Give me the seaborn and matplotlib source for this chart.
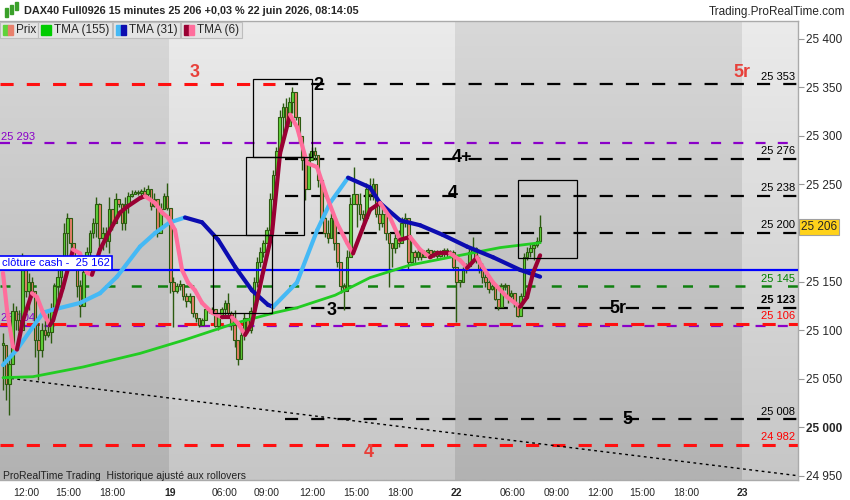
import matplotlib
matplotlib.use('Agg')
import matplotlib.pyplot as plt
from matplotlib.patches import Rectangle
from matplotlib.colors import LinearSegmentedColormap
from matplotlib.transforms import blended_transform_factory
import numpy as np
import seaborn as sns

# --- candles (15 min bars), open = previous close ---
highs = [25097, 25059, 25072, 25128, 25125, 25121, 25179, 25162, 25159, 25155, 25113, 25107, 25107, 25110,
         25118, 25128, 25149, 25162, 25169, 25210, 25221, 25213, 25183, 25169, 25152, 25165, 25186, 25203, 25215,
         25237, 25231, 25206, 25206, 25237, 25224, 25241, 25234, 25231, 25237, 25242, 25244, 25244, 25244, 25245,
         25247, 25249, 25244, 25241, 25234, 25231, 25241, 25252, 25226, 25155, 25149, 25152, 25147, 25138, 25138,
         25126, 25118,
         25110, 25112, 25124, 25121, 25124, 25108, 25118, 25124, 25131, 25138, 25120,
         25121, 25083, 25100, 25118, 25110, 25124, 25155, 25175, 25186, 25193, 25206, 25241, 25265, 25289, 25327,
         25334, 25339, 25340, 25350, 25330, 25316, 25299,
         25272, 25282, 25289,
         25289, 25272, 25237,
         25216, 25213, 25221, 25210, 25190,
         25165, 25149, 25183, 25237, 25268,
         25237, 25241, 25224, 25252, 25257, 25257, 25241, 25231, 25227, 25221,
         25200, 25190, 25200, 25203, 25216, 25221, 25206, 25193, 25183, 25186,
         25179, 25183, 25185, 25183, 25183, 25183, 25183, 25185, 25185, 25183,
         25183, 25152, 25152, 25165, 25169, 25186, 25196, 25186, 25175, 25169,
         25162, 25155, 25152, 25134, 25131, 25149, 25149, 25144, 25141, 25134,
         25118, 25138, 25179, 25186, 25190, 25190, 25196, 25219]
lows = [25038, 25028, 25013, 25072, 25100, 25093, 25100, 25134, 25121, 25134, 25072, 25049, 25072, 25090,
        25093, 25087, 25110, 25128, 25134, 25169, 25175, 25179, 25162, 25134, 25113, 25128, 25162, 25175, 25195,
        25196, 25186, 25183, 25186, 25179, 25203, 25216, 25227, 25203, 25203, 25221, 25237, 25241, 25239, 25238,
        25237, 25237, 25224, 25227, 25196, 25216, 25227, 25224, 25138, 25103, 25138, 25141, 25131, 25124, 25128,
        25113, 25108,
        25103, 25107, 25113, 25118, 25121, 25103, 25100, 25118, 25113, 25113, 25100,
        25083, 25064, 25076, 25090, 25097, 25097, 25118, 25144, 25165, 25175, 25190, 25196, 25221, 25244, 25289,
        25299, 25306, 25324, 25324, 25316, 25293, 25265,
        25234, 25258, 25275,
        25275, 25247, 25210,
        25196, 25190, 25196, 25183, 25165,
        25138, 25121, 25149, 25190, 25231,
        25206, 25213, 25203, 25216, 25234, 25234, 25216, 25203, 25206, 25193,
        25144, 25165, 25179, 25186, 25196, 25206, 25162, 25169, 25169, 25172,
        25172, 25175, 25175, 25175, 25175, 25172, 25175, 25175, 25175, 25175,
        25162, 25108, 25144, 25155, 25159, 25169, 25179, 25169, 25159, 25149,
        25144, 25138, 25141, 25131, 25121, 25138, 25141, 25128, 25131, 25124,
        25113, 25124, 25149, 25172, 25175, 25172, 25186, 25190]
closes = [25085, 25045, 25065, 25120, 25110, 25100, 25165, 25140, 25150, 25140, 25090, 25080, 25100, 25095,
          25098, 25120, 25145, 25155, 25165, 25200, 25215, 25190, 25170, 25145, 25125, 25160, 25180, 25200, 25210,
          25230, 25195, 25200, 25192, 25225, 25210, 25235, 25230, 25210, 25230, 25238, 25240, 25242, 25241, 25243,
          25240, 25245, 25228, 25235, 25200, 25225, 25238, 25226, 25150, 25140, 25145, 25148, 25135, 25130, 25135,
          25118, 25112,
          25105, 25110, 25122, 25120, 25122, 25104, 25115, 25122, 25128, 25118, 25105,
          25090, 25070, 25095, 25112, 25100, 25120, 25150, 25170, 25180, 25190, 25203, 25235, 25260, 25285, 25320,
          25330, 25310, 25335, 25345, 25320, 25300, 25275,
          25245, 25275, 25285,
          25280, 25255, 25215,
          25200, 25195, 25215, 25190, 25170,
          25145, 25140, 25175, 25230, 25240,
          25230, 25220, 25215, 25245, 25240, 25250, 25220, 25210, 25220, 25200,
          25190, 25185, 25195, 25190, 25210, 25215, 25170, 25180, 25175, 25180,
          25175, 25180, 25182, 25178, 25181, 25176, 25180, 25183, 25178, 25180,
          25165, 25150, 25150, 25162, 25166, 25180, 25185, 25172, 25162, 25155,
          25150, 25142, 25145, 25132, 25124, 25145, 25146, 25135, 25138, 25128,
          25115, 25135, 25175, 25180, 25185, 25188, 25192, 25206]

# --- moving averages (bar index, price) ---
tma155_k = [0, 9.3, 24.9, 42.6, 56.6, 72.1, 84.6, 91.4, 103.3, 114.1, 126.6, 142.1, 154.6, 167]
tma155_p = [25051, 25052, 25062, 25076, 25090, 25107, 25118, 25123, 25136, 25154, 25167, 25177, 25185, 25190]

tma31_k = [0, 4.35, 12.44, 15.55, 23.95, 30.17, 35.45, 42.6, 47.3, 51.9, 56.6, 61.9, 66.9, 72.2, 77.4,
           82.4, 84.0, 91.4, 97.7, 101.7, 107.3, 114.1, 117.2, 123.5, 129.7, 136.8, 144.3, 152.4, 160.8, 167]
tma31_p = [25064, 25080, 25118, 25121, 25128, 25138, 25155, 25186, 25200, 25211, 25216, 25211,
           25193, 25165, 25141, 25126, 25124, 25149, 25203, 25231, 25257, 25247, 25231, 25213,
           25208, 25198, 25186, 25175, 25162, 25155]

tma6_k = [0, 1.24, 3.11, 4.35, 6.22, 9.02, 10.57, 12.44, 14.62, 15.55, 18.66, 21.77, 23.95, 26.12,
          27.68, 30.17, 33.28, 36.39, 38.56, 42.61, 44.16, 47.27, 49.45, 51.32, 53.5, 55.67, 57.54,
          59.71, 61.89, 65.0, 68.11, 71.22, 73.09, 75.26, 77.44, 80.55, 83.66, 86.15, 89.26, 91.43,
          94.54, 97.65, 100.76, 103.87, 106.98, 108.85, 111.96, 114.14, 117.25, 120.36, 123.47,
          126.58, 129.69, 132.8, 134.97, 139.02, 142.13, 144.3, 147.41, 148.35, 152.39, 156.74,
          160.79, 162.96, 164.83, 167.01]
tma6_p = [25159, 25121, 25083, 25080, 25110, 25138, 25134, 25118, 25105, 25110, 25144, 25183,
          25179, 25159, 25157, 25183, 25203, 25221, 25227, 25236, 25238, 25231, 25221, 25216,
          25203, 25162, 25149, 25141, 25128, 25118, 25113, 25113, 25107, 25095, 25107, 25155,
          25200, 25282, 25322, 25309, 25272, 25268, 25237, 25210, 25190, 25179, 25206, 25224,
          25231, 25216, 25193, 25196, 25183, 25175, 25179, 25179, 25172, 25164, 25175, 25169,
          25149, 25134, 25124, 25134, 25159, 25177]

# --- levels ---
black_levels = [25353, 25276, 25238, 25200, 25123, 25008]
red_levels = [25106, 24982]
purple_levels = [25293, 25104]
green_level = 25145
cash_close = 25162
red_top_level = 25353
trend_k = [0.6, 247.2]
trend_p = [25051, 24950]

# rectangles: k0, k1, low, high
box_k0 = [77.8, 75.6, 65.3, 160.2]
box_k1 = [96.1, 93.6, 83.7, 178.5]
box_lo = [25278, 25198, 25118, 25174]
box_hi = [25359, 25278, 25198, 25255]

# big level labels
wave_text = ['3', '2', '5r', '4+', '4', '3', '5r', '5', '4']
wave_k = [59.7, 98, 229.8, 142.7, 140, 102.3, 191.3, 194.1, 113.8]
wave_p = [25365, 25352, 25365, 25278, 25241, 25120, 25122, 25008, 24974]
wave_col = ['#e8403a', 'black', '#e8403a', 'black', 'black', 'black', 'black', 'black', '#e8403a']

right_text = ['25 353', '25 276', '25 238', '25 200', '25 145', '25 123', '25 106', '25 008', '24 982']
right_p = [25353, 25276, 25238, 25200, 25145, 25123, 25106, 25008, 24982]
right_col = ['black', 'black', 'black', 'black', '#008000', 'black', '#ff0000', 'black', '#ff0000']

yticks = [25400, 25350, 25300, 25250, 25200, 25150, 25100, 25050, 25000, 24950]
xtick_k = [7.15, 20.2, 33.9, 51.9, 69.0, 82.1, 96.1, 109.8, 123.5, 140.9, 158.6, 172.0, 185.7, 198.7, 212.4, 229.8]
xtick_lab = ['12:00', '15:00', '18:00', '19', '06:00', '09:00', '12:00', '15:00', '18:00', '22',
             '06:00', '09:00', '12:00', '15:00', '18:00', '23']
band_k = [-0.93, 51.5, 140.5, 229.8, 247.2]
last_price = 25206

sns.set_theme(style='white')
plt.rcParams['font.family'] = ['Liberation Sans', 'DejaVu Sans']

W, H = 850, 500
fig = plt.figure(figsize=(8.5, 5), dpi=100)
ax = fig.add_axes([0, 1 - 480 / H, 798 / W, 459 / H])
XMIN, XMAX = -0.93, 247.2
YMIN, YMAX = 24945.6, 25418.4
ax.set_xlim(XMIN, XMAX)
ax.set_ylim(YMIN, YMAX)

# background: day bands with vertical gradient
dark_cm = LinearSegmentedColormap.from_list('d', ['#d8d8d8', '#b2b2b2'])
light_cm = LinearSegmentedColormap.from_list('l', ['#ebebeb', '#c6c6c6'])
grad = np.linspace(0, 1, 256).reshape(-1, 1)
for i in range(len(band_k) - 1):
    cm = dark_cm if i % 2 == 0 else light_cm
    ax.imshow(grad, extent=[band_k[i], band_k[i + 1], YMIN, YMAX], cmap=cm,
              aspect='auto', zorder=0, interpolation='bilinear')

# level lines
for lv in black_levels:
    ax.plot([87.7, XMAX], [lv, lv], color='black', lw=1.6, ls=(0, (5.9, 5.9)), zorder=1)
ax.plot([XMIN, 84.6], [red_top_level] * 2, color='#ff1010', lw=2.2, ls=(0, (4.3, 4.3)), zorder=1)
for lv in purple_levels:
    ax.plot([XMIN, XMAX], [lv, lv], color='#8a00c8', lw=1.6, ls=(0, (4.5, 5.5)), zorder=1)
for lv in red_levels:
    ax.plot([XMIN, XMAX], [lv, lv], color='#ff1010', lw=2.2, ls=(0, (4.3, 4.3)), zorder=1)
ax.plot([XMIN, XMAX], [green_level] * 2, color='#108010', lw=1.8, ls=(0, (4, 6.5)), zorder=1)
ax.plot(trend_k, trend_p, color='black', lw=1.0, ls=(0, (2, 2.5)), zorder=1)

# candles
k = np.arange(len(closes))
c = np.array(closes, dtype=float)
o = np.r_[c[0], c[:-1]]
hi = np.maximum(np.array(highs, dtype=float), np.maximum(o, c))
lo = np.minimum(np.array(lows, dtype=float), np.minimum(o, c))
edge = '#2c5a10'
ax.vlines(k, lo, hi, color=edge, lw=1.0, zorder=2)
bot = np.minimum(o, c)
hgt = np.maximum(np.abs(c - o), 1.5)
cols = np.where(c >= o, '#5fd33a', '#e8806c')
ax.bar(k, hgt, bottom=bot, width=0.8, color=cols, edgecolor=edge, linewidth=0.8, zorder=2)

# blue cash close line
ax.plot([XMIN, XMAX], [cash_close] * 2, color='#0000ff', lw=1.6, zorder=3)

# moving averages
sns.lineplot(x=tma155_k, y=tma155_p, color='#22cc22', lw=2.0, ax=ax, zorder=3, sort=False)


def two_tone(ks, ps, up, down, lw):
    for i in range(len(ks) - 1):
        col = up if ps[i + 1] >= ps[i] else down
        ax.plot(ks[i:i + 2], ps[i:i + 2], color=col, lw=lw, solid_capstyle='round', zorder=3)


two_tone(tma31_k, tma31_p, '#45b9f5', '#0c0cb0', 3.0)
two_tone(tma6_k, tma6_p, '#990033', '#ff6e9c', 3.0)

# rectangles
for a, b, l, h in zip(box_k0, box_k1, box_lo, box_hi):
    ax.add_patch(Rectangle((a, l), b - a, h - l, fill=False, ec='black', lw=0.9, zorder=4))

# big labels
for t, kk, pp, cc in zip(wave_text, wave_k, wave_p, wave_col):
    ax.text(kk, pp, t, color=cc, fontsize=13, fontweight='bold', ha='center', va='center', zorder=5)

# right side level labels
for t, pp, cc in zip(right_text, right_p, right_col):
    ax.text(246.3, pp + 3, t, color=cc, fontsize=8, ha='right', va='bottom', zorder=5,
            fontweight='bold' if t == '25 123' else 'normal')

# left labels
ax.text(-0.6, 25299, '25 293', color='#8a00c8', fontsize=8, va='center', zorder=5)
ax.text(-0.6, 25112, '25 104', color='#8a00c8', fontsize=8, va='center', zorder=1.5)
ax.text(-0.4, 25169, 'clôture cash -  25 162', color='#0000ff', fontsize=8, va='center', zorder=5,
        bbox=dict(facecolor='white', edgecolor='#0000ff', lw=1.2, boxstyle='square,pad=0.2'))

# axes styling
ax.yaxis.tick_right()
ax.set_yticks(yticks)
# 25 200 sits under the last price tag
ax.set_yticklabels(['' if v == 25200 else f'{v:,}'.replace(',', ' ') for v in yticks])
for lab in ax.get_yticklabels():
    if lab.get_text() == '25 000':
        lab.set_fontweight('bold')
ax.tick_params(axis='y', right=True, length=4, width=0.8, color='#999999', labelsize=8.5, pad=2)
ax.set_xticks(xtick_k)
ax.set_xticklabels(xtick_lab)
for lab in ax.get_xticklabels():
    if ':' not in lab.get_text():
        lab.set_fontweight('bold')
        lab.set_fontsize(9)
ax.tick_params(axis='x', bottom=True, length=0, labelsize=7.5, pad=6)
for s in ['top', 'right', 'bottom']:
    ax.spines[s].set_color('#aaaaaa')
    ax.spines[s].set_linewidth(1)
ax.spines['left'].set_visible(False)
ax.grid(False)

tr = blended_transform_factory(ax.transAxes, ax.transData)
ax.text(1.004, last_price, '25 206', transform=tr, fontsize=8.5, va='center', ha='left', zorder=6,
        bbox=dict(facecolor='#ffd21a', edgecolor='#a0a0a0', lw=0.8, boxstyle='square,pad=0.15'))


def fx(x):
    return x / W


def fy(y):
    return 1 - y / H


# title bar
fig.text(fx(24), fy(11), 'DAX40 Full0926 15 minutes 25 206 +0,03 % 22 juin 2026, 08:14:05',
         fontsize=7.8, fontweight='bold', va='center', ha='left')
fig.text(fx(845), fy(12), 'Trading.ProRealTime.com', fontsize=8.5, va='center', ha='right')
for xx, y0, y1 in [(5, 8, 17), (10, 5, 14), (15, 2, 10)]:
    fig.add_artist(Rectangle((fx(xx), fy(y1)), 3 / W, (y1 - y0) / H, transform=fig.transFigure,
                             color='#3aa02a', zorder=10))

# legend row
leg_boxes = [(0, 38, 'Prix', ['#5fd33a', '#e8806c']), (38, 112, 'TMA (155)', ['#00cc00', '#00cc00']),
             (113, 180, 'TMA (31)', ['#45b9f5', '#0c0cb0']), (181, 242, 'TMA (6)', ['#990033', '#ff6e9c'])]
for x0, x1, txt, sw in leg_boxes:
    fig.add_artist(Rectangle((fx(x0), fy(38)), (x1 - x0) / W, 16 / H, transform=fig.transFigure,
                             facecolor='#e4e4e4', edgecolor='#bdbdbd', lw=0.8, zorder=10))
    fig.add_artist(Rectangle((fx(x0 + 3), fy(35)), 5 / W, 10 / H, transform=fig.transFigure,
                             color=sw[0], zorder=11))
    fig.add_artist(Rectangle((fx(x0 + 8), fy(35)), 5 / W, 10 / H, transform=fig.transFigure,
                             color=sw[1], zorder=11))
    fig.text(fx(x0 + 16), fy(30), txt, fontsize=8.5, va='center', ha='left', zorder=12)

fig.text(fx(3), fy(476), 'ProRealTime Trading  Historique ajusté aux rollovers', fontsize=7.5,
         va='center', ha='left', color='#222222')

fig.savefig('out.png', dpi=100, facecolor='white')
